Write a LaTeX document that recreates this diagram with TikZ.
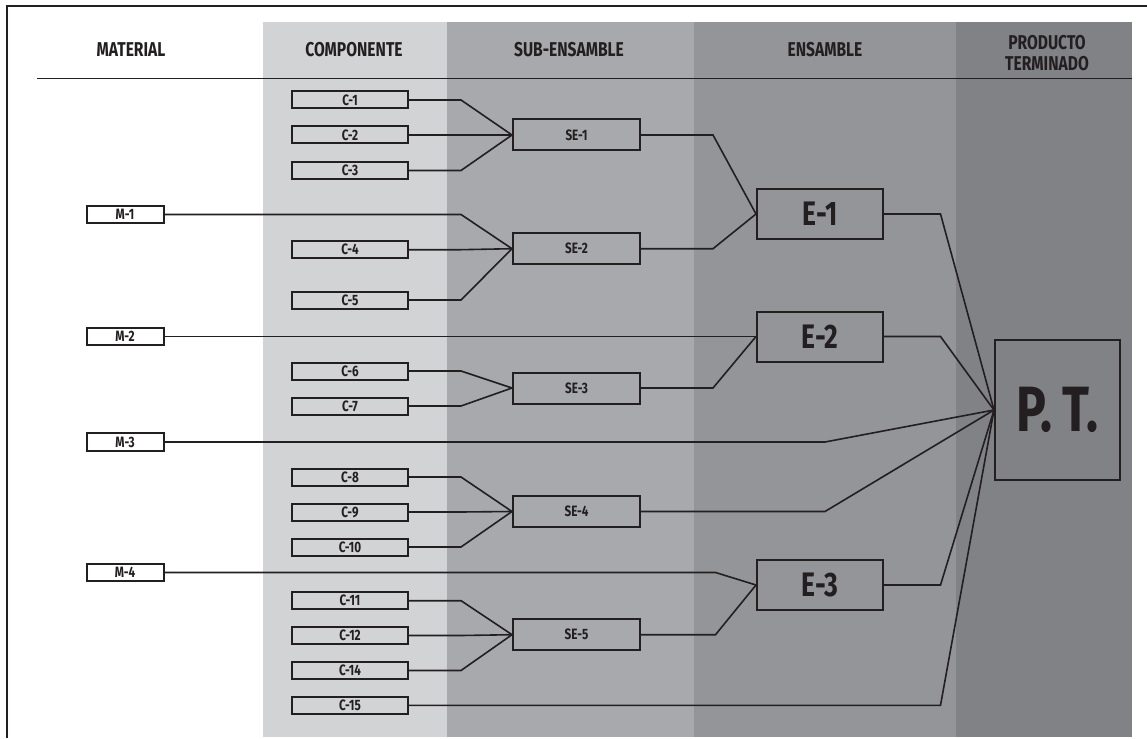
\documentclass[tikz,border=0pt]{standalone}
\usepackage{fontspec}
\setmainfont{Fira Sans}[FakeStretch=0.78]
\definecolor{ink}{HTML}{231F20}
\definecolor{bandcomp}{HTML}{D2D3D5}
\definecolor{bandsub}{HTML}{A7A9AC}
\definecolor{bandens}{HTML}{939598}
\definecolor{bandpt}{HTML}{808285}
\tikzset{
  hdr/.style={text=ink, font=\bfseries\fontsize{20}{21}\selectfont, inner sep=0pt},
  part/.style={draw=ink, line width=2pt, inner sep=0pt, text=ink,
    font=\bfseries\fontsize{15}{15}\selectfont},
  mbox/.style={part, fill=white, minimum width=77pt, minimum height=17.5pt},
  cbox/.style={part, minimum width=116pt, minimum height=17pt},
  sebox/.style={part, minimum width=127pt, minimum height=31pt},
  ebox/.style={part, minimum width=126pt, minimum height=50pt,
    font=\bfseries\fontsize{34}{34}\selectfont},
  ptbox/.style={part, minimum width=125pt, minimum height=140pt,
    font=\bfseries\fontsize{64}{64}\selectfont},
  link/.style={draw=ink, line width=1.6pt, line join=miter}
}
\begin{document}
\begin{tikzpicture}[x=1pt,y=-1pt]
\useasboundingbox (0,0) rectangle (1147,738);
\fill[white] (0,0) rectangle (1147,738);

% column bands
\fill[bandcomp] (263,22.5) rectangle (447,736.5);
\fill[bandsub]  (447,22.5) rectangle (694,736.5);
\fill[bandens]  (694,22.5) rectangle (956,736.5);
\fill[bandpt]   (956,22.5) rectangle (1131.5,736.5);

% outer frame (top and left edges)
\draw[ink, line width=2pt] (7,738) -- (7,6.5) -- (1147,6.5);

% header rule
\draw[ink, line width=1.3pt] (37,78.5) -- (1131.5,78.5);

% column headings
\node[hdr] (hmat) at (131,50) {MATERIAL};
\node[hdr] (hcomp) at (354,50) {COMPONENTE};
\node[hdr] (hsub) at (569,50) {SUB-ENSAMBLE};
\node[hdr] (hens) at (825,50) {ENSAMBLE};
\node[hdr, align=center] (hpt) at (1047,53) {PRODUCTO\\TERMINADO};

% materials
\node[mbox] (M-1) at (125,214.5) {M-1};
\node[mbox] (M-2) at (125,336.5) {M-2};
\node[mbox] (M-3) at (125,442) {M-3};
\node[mbox] (M-4) at (125,572.5) {M-4};

% components
\node[cbox] (C-1)  at (350,100)   {C-1};
\node[cbox] (C-2)  at (350,135)   {C-2};
\node[cbox] (C-3)  at (350,170.5) {C-3};
\node[cbox] (C-4)  at (350,249.7) {C-4};
\node[cbox] (C-5)  at (350,300)   {C-5};
\node[cbox] (C-6)  at (350,371)   {C-6};
\node[cbox] (C-7)  at (350,406)   {C-7};
\node[cbox] (C-8)  at (350,477)   {C-8};
\node[cbox] (C-9)  at (350,512)   {C-9};
\node[cbox] (C-10) at (350,547)   {C-10};
\node[cbox] (C-11) at (350,600.7) {C-11};
\node[cbox] (C-12) at (350,635.5) {C-12};
\node[cbox] (C-14) at (350,670.5) {C-14};
\node[cbox] (C-15) at (350,705.3) {C-15};

% sub-assemblies
\node[sebox] (SE-1) at (576.5,135)   {SE-1};
\node[sebox] (SE-2) at (576.5,248.7) {SE-2};
\node[sebox] (SE-3) at (576.5,388)   {SE-3};
\node[sebox] (SE-4) at (576.5,511.5) {SE-4};
\node[sebox] (SE-5) at (576.5,634.7) {SE-5};

% assemblies
\node[ebox] (E-1) at (820,214)   {E-1};
\node[ebox] (E-2) at (820,336.5) {E-2};
\node[ebox] (E-3) at (820,585)   {E-3};

% finished product
\node[ptbox] (PT) at (1057.5,410) {P.\,T.};

% bend columns
\coordinate (jc) at (461,0);
\coordinate (js) at (713,0);
\coordinate (jm) at (715.5,0);
\coordinate (jp) at (825,0);
\coordinate (je) at (940.5,0);

% components and materials into sub-assemblies
\foreach \a/\b in {C-1/SE-1, C-2/SE-1, C-3/SE-1, M-1/SE-2, C-4/SE-2, C-5/SE-2,
                   C-6/SE-3, C-7/SE-3, C-8/SE-4, C-9/SE-4, C-10/SE-4,
                   C-11/SE-5, C-12/SE-5, C-14/SE-5}
  \draw[link] (\a.east) -- (\a.east -| jc) -- (\b.west);

% sub-assemblies into assemblies
\foreach \a/\b in {SE-1/E-1, SE-2/E-1, SE-3/E-2}
  \draw[link] (\a.east) -- (\a.east -| js) -- (\b.west);
\draw[link] (SE-5.east) -- (SE-5.east -| jm) -- (E-3.west);
\draw[link] (M-4.east) -- (M-4.east -| jm) -- (E-3.west);
\draw[link] (M-2.east) -- (E-2.west);

% into the finished product
\foreach \a in {M-3, SE-4}
  \draw[link] (\a.east) -- (\a.east -| jp) -- (PT.west);
\foreach \a in {E-1, E-2, E-3, C-15}
  \draw[link] (\a.east) -- (\a.east -| je) -- (PT.west);
\end{tikzpicture}
\end{document}
